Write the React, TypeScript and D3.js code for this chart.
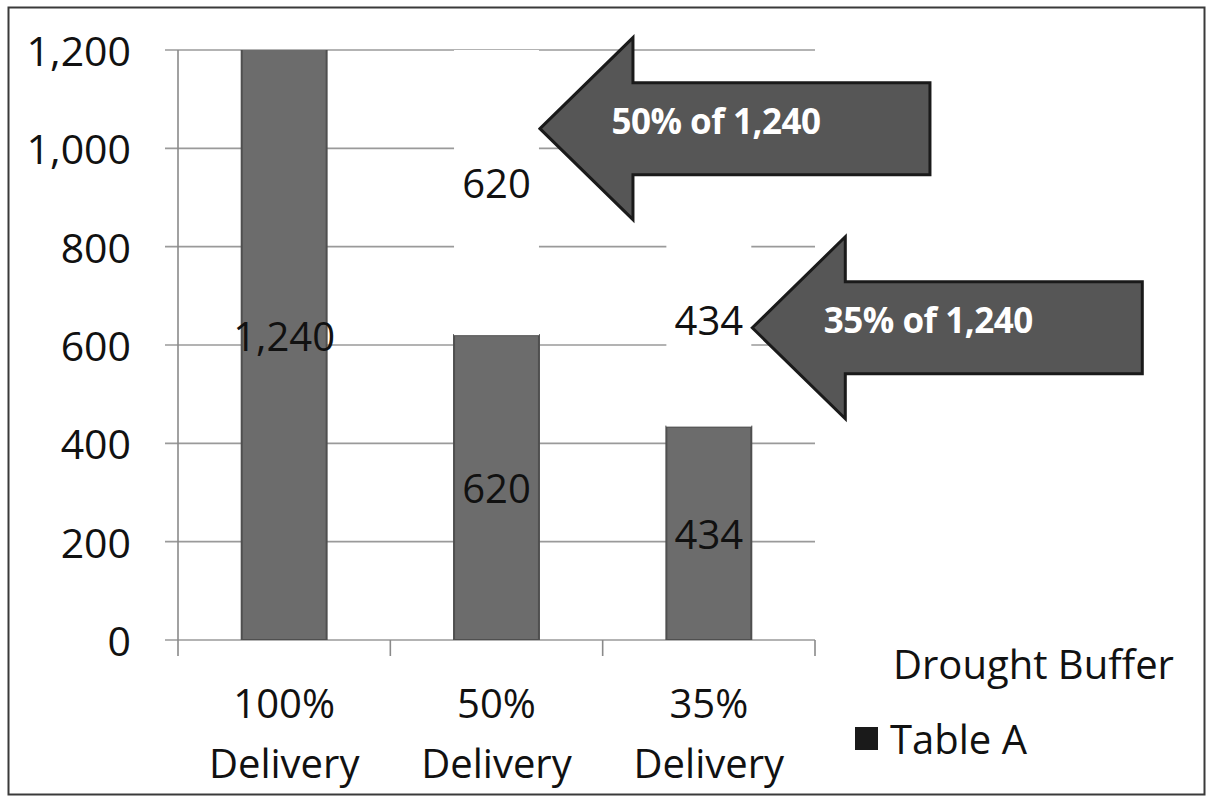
import React from 'react';
import * as d3 from 'd3';

const categories = ['100% Delivery', '50% Delivery', '35% Delivery'];
const tableA = [1240, 620, 434];
const droughtBuffer = [0, 620, 434];
const yTicks = [0, 200, 400, 600, 800, 1000, 1200];
const legendNames = ['Drought Buffer', 'Table A'];
const callouts = [
  { category: '50% Delivery', value: 1040, text: '50% of 1,240' },
  { category: '35% Delivery', value: 635, text: '35% of 1,240' },
];

const W = 1207;
const H = 799;
const FONT = '"Open Sans", "Noto Sans", sans-serif';

const App: React.FC = () => {
  const plot = { left: 178, right: 815, top: 50, bottom: 640 };

  const x = d3.scaleBand<string>()
    .domain(categories)
    .range([plot.left, plot.right])
    .paddingInner(0.6)
    .paddingOuter(0.3);

  const y = d3.scaleLinear()
    .domain([0, 1200])
    .range([plot.bottom, plot.top]);

  const rows = categories.map((c, i) => ({ cat: c, tableA: tableA[i], drought: droughtBuffer[i] }));
  const stacked = d3.stack<any>().keys(['tableA', 'drought'])(rows);
  const fills: Record<string, string> = { tableA: '#6c6c6c', drought: '#ffffff' };

  const fmt = d3.format(',');
  const step = x.step();
  const bw = x.bandwidth();

  // block arrow pointing left, tip at (0,0)
  const arrowPts: [number, number][] = [
    [0, 0], [93, -91], [93, -46], [390, -46], [390, 46], [93, 46], [93, 91],
  ];
  const arrowPath = d3.line()(arrowPts) + 'Z';

  return (
    <svg width={W} height={H} style={{ position: 'absolute', left: 0, top: 0, display: 'block', background: '#fff' }}>
      <defs>
        <clipPath id="plotClip">
          <rect x={plot.left} y={plot.top} width={plot.right - plot.left} height={plot.bottom - plot.top} />
        </clipPath>
      </defs>
      <rect x={8.5} y={7.5} width={1196} height={787} fill="#fff" stroke="#3a3a3a" strokeWidth={2} />

      {/* gridlines + y ticks */}
      {yTicks.map(t => (
        <line key={t} x1={plot.left - 13} x2={plot.right} y1={y(t)} y2={y(t)} stroke="#9a9a9a" strokeWidth={1.6} />
      ))}
      <line x1={plot.left} x2={plot.left} y1={plot.top} y2={plot.bottom} stroke="#8a8a8a" strokeWidth={1.6} />
      {d3.range(categories.length + 1).map(i => (
        <line key={i} x1={plot.left + i * step} x2={plot.left + i * step} y1={plot.bottom} y2={plot.bottom + 16}
          stroke="#8a8a8a" strokeWidth={1.6} />
      ))}

      {/* bars */}
      <g clipPath="url(#plotClip)">
        {stacked.map(s => s.map((d, i) => (
          <rect key={s.key + i}
            x={x(categories[i])}
            y={y(d[1])}
            width={bw}
            height={Math.max(0, y(d[0]) - y(d[1]))}
            fill={fills[s.key]}
            stroke={s.key === 'tableA' ? '#4f4f4f' : 'none'}
            strokeWidth={2} />
        )))}
      </g>

      {/* data labels */}
      {stacked.map(s => s.map((d, i) => {
        const v = d[1] - d[0];
        if (!v) return null;
        return (
          <text key={'l' + s.key + i}
            x={(x(categories[i]) as number) + bw / 2}
            y={y((d[0] + d[1]) / 2)}
            textAnchor="middle" dominantBaseline="central"
            fontFamily={FONT} fontSize={40} fill="#111">
            {fmt(v)}
          </text>
        );
      }))}

      {/* y tick labels */}
      {yTicks.map(t => (
        <text key={'y' + t} x={131} y={y(t)} textAnchor="end" dominantBaseline="central"
          fontFamily={FONT} fontSize={41} fill="#111">
          {fmt(t)}
        </text>
      ))}

      {/* category labels */}
      {categories.map(c => {
        const [a, b] = c.split(' ');
        const cx = (x(c) as number) + bw / 2;
        return (
          <text key={'c' + c} x={cx} y={718} textAnchor="middle" fontFamily={FONT} fontSize={40} fill="#111">
            <tspan x={cx}>{a}</tspan>
            <tspan x={cx} dy={60}>{b}</tspan>
          </text>
        );
      })}

      {/* callout arrows */}
      {callouts.map(c => {
        const tx = (x(c.category) as number) + bw + 1;
        const ty = y(c.value);
        return (
          <g key={c.text} transform={`translate(${tx},${ty})`}>
            <path d={arrowPath} fill="#565656" stroke="#1a1a1a" strokeWidth={3} strokeLinejoin="miter" />
            <text x={176} y={-8} textAnchor="middle" dominantBaseline="central"
              fontFamily={FONT} fontSize={35} fontWeight={700} fill="#fff" letterSpacing={-0.5}>
              {c.text}
            </text>
          </g>
        );
      })}

      {/* legend */}
      {legendNames.map((n, i) => (
        <g key={n} transform={`translate(855,${663 + i * 75})`}>
          <rect x={0} y={-11} width={23} height={23} fill={i === 0 ? '#ffffff' : '#1a1a1a'} />
          <text x={i === 0 ? 38 : 35} y={0} dominantBaseline="central" fontFamily={FONT} fontSize={40} fill="#111">{n}</text>
        </g>
      ))}
    </svg>
  );
};

export default App;
